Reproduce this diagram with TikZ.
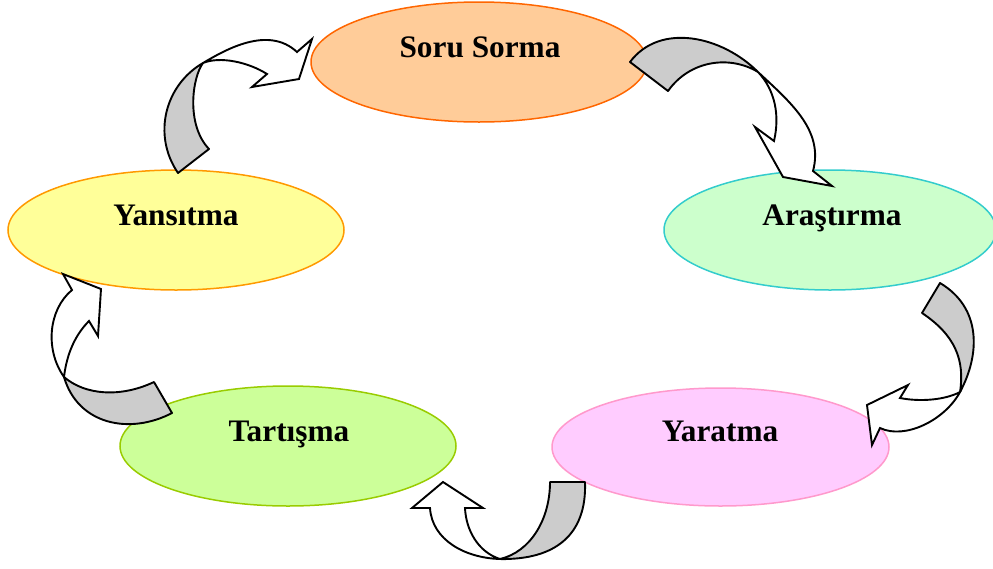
\documentclass[tikz,border=0pt]{standalone}
\usepackage{fontspec}
\setmainfont{Liberation Serif}
\usetikzlibrary{shapes.geometric}

\definecolor{soruFill}{HTML}{FFCC99}
\definecolor{soruLine}{HTML}{FF6600}
\definecolor{arasFill}{HTML}{CCFFCC}
\definecolor{arasLine}{HTML}{33CCCC}
\definecolor{yaraFill}{HTML}{FFCCFF}
\definecolor{yaraLine}{HTML}{FF99CC}
\definecolor{tartFill}{HTML}{CCFF99}
\definecolor{tartLine}{HTML}{99CC00}
\definecolor{yansFill}{HTML}{FFFF99}
\definecolor{yansLine}{HTML}{FF9900}
\definecolor{ribbonBack}{HTML}{CCCCCC}

\begin{document}
\begin{tikzpicture}[x=1pt,y=-1pt,
  stage/.style={ellipse, line width=1.5pt, inner sep=0pt,
                minimum width=336pt, minimum height=120pt},
  caption/.style={anchor=base, inner sep=0pt,
                  font=\fontsize{31.3}{37}\selectfont\bfseries},
  backside/.style={fill=ribbonBack, draw=black, line width=1.9pt, line join=round},
  frontside/.style={fill=white, draw=black, line width=1.9pt, line join=miter}]

\useasboundingbox (0,0) rectangle (993,568);

% the five stages of the cycle
\node[stage, draw=soruLine, fill=soruFill] (soru) at (479,62) {};
\node[stage, draw=arasLine, fill=arasFill, minimum width=332pt] (aras) at (830,230) {};
\node[stage, draw=yaraLine, fill=yaraFill, minimum width=337pt, minimum height=118pt] (yara) at (720.5,447) {};
\node[stage, draw=tartLine, fill=tartFill] (tart) at (288,446) {};
\node[stage, draw=yansLine, fill=yansFill] (yans) at (176,230) {};

\node[caption] (soru-t) at (480,57) {Soru Sorma};
\node[caption] (aras-t) at (832,225) {Araştırma};
\node[caption] (yara-t) at (720,441) {Yaratma};
\node[caption] (tart-t) at (289,441) {Tartışma};
\node[caption] (yans-t) at (176,225) {Yansıtma};

% curved ribbon arrow: Yansıtma -> Soru Sorma
\draw[backside] (178,173) .. controls (152,135) and (165,85) .. (203,63)
  .. controls (192,78) and (186,125) .. (209,149) -- cycle;
\draw[frontside] (203,63) .. controls (225,50) and (268,25) .. (297,52)
  -- (312,39) -- (299,79) -- (252,87) -- (267,74)
  .. controls (248,62) and (220,56) .. (203,63) -- cycle;

% curved ribbon arrow: Soru Sorma -> Araştırma
\draw[backside] (630,62) .. controls (660,22) and (722,36) .. (758,72)
  .. controls (730,55) and (690,60) .. (668,91) -- cycle;
\draw[frontside] (758,72) .. controls (790,102) and (824,130) .. (813,171)
  -- (832,186) -- (783,177) -- (755,127) -- (774,141)
  .. controls (780,115) and (775,90) .. (758,72) -- cycle;

% curved ribbon arrow: Araştırma -> Yaratma
\draw[backside] (940,283) .. controls (982,308) and (980,355) .. (960,392)
  .. controls (965,360) and (955,335) .. (922,313) -- cycle;
\draw[frontside] (960,392) .. controls (945,420) and (905,440) .. (880,428)
  -- (872,445) -- (867,405) -- (908,385) -- (900,398)
  .. controls (920,402) and (945,400) .. (960,392) -- cycle;

% curved ribbon arrow: Yaratma -> Tartışma
\draw[backside] (585,482) .. controls (587,535) and (555,560) .. (500,559)
  .. controls (530,552) and (550,520) .. (550,482) -- cycle;
\draw[frontside] (500,559) .. controls (465,558) and (432,540) .. (430,508)
  -- (412,508) -- (443,482) -- (483,508) -- (465,508)
  .. controls (466,530) and (478,552) .. (500,559) -- cycle;

% curved ribbon arrow: Tartışma -> Yansıtma
\draw[backside] (172,413) .. controls (130,435) and (78,425) .. (64,377)
  .. controls (85,395) and (120,398) .. (154,382) -- cycle;
\draw[frontside] (64,377) .. controls (45,350) and (48,310) .. (72,290)
  -- (63,274) -- (101,289) -- (98,336) -- (89,321)
  .. controls (72,338) and (66,360) .. (64,377) -- cycle;

\end{tikzpicture}
\end{document}
